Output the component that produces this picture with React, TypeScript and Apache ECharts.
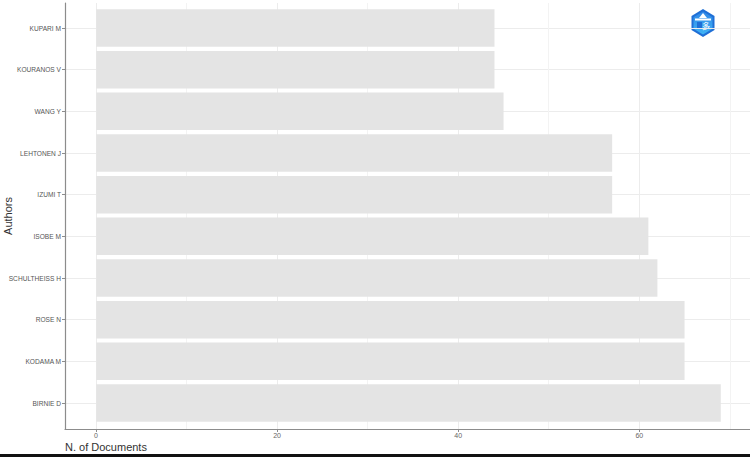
import React, { useEffect, useRef } from "react";
import * as echarts from "echarts";

// bottom-to-top order
const authors = [
  "BIRNIE D",
  "KODAMA M",
  "ROSE N",
  "SCHULTHEISS H",
  "ISOBE M",
  "IZUMI T",
  "LEHTONEN J",
  "WANG Y",
  "KOURANOS V",
  "KUPARI M",
];
const documents = [69, 65, 65, 62, 61, 57, 57, 45, 44, 44];
const xMajorTicks = [0, 20, 40, 60];
const xTitle = "N. of Documents";
const yTitle = "Authors";

const X_MIN = -3.45;
const X_MAX = 72.45;

export default function App() {
  const ref = useRef<HTMLDivElement>(null);
  useEffect(() => {
    if (!ref.current) return;
    const chart = echarts.init(ref.current, null, { renderer: "svg" });
    const font = "Liberation Sans, Arial, sans-serif";
    const gridColor = "#ececec";
    const axisColor = "#8c8c8c";
    chart.setOption({
      animation: false,
      backgroundColor: "#ffffff",
      grid: [
        // bars + category labels + horizontal grid
        { left: 65, width: 687, top: 28, height: 375, containLabel: false, outerBoundsMode: "none" },
        // vertical grid + x labels
        { left: 96, width: 656, top: 3, height: 426, containLabel: false, outerBoundsMode: "none" },
        // axis lines
        { left: 65, width: 687, top: 3, height: 426, containLabel: false, outerBoundsMode: "none" },
      ],
      xAxis: [
        {
          gridIndex: 0,
          type: "value",
          position: "bottom",
          min: X_MIN,
          max: X_MAX,
          show: false,
        },
        {
          gridIndex: 1,
          type: "value",
          position: "bottom",
          offset: 0,
          min: 0,
          max: X_MAX,
          interval: 10,
          axisLine: { show: false, onZero: false },
          axisTick: { show: false },
          axisLabel: { show: false },
          splitLine: { show: true, lineStyle: { color: "#f3f3f3", width: 1 } },
        },
        {
          gridIndex: 1,
          type: "value",
          position: "bottom",
          offset: 0,
          min: 0,
          max: X_MAX,
          interval: 20,
          axisLine: { show: false, onZero: false },
          axisTick: { show: true, length: 3, lineStyle: { color: axisColor } },
          axisLabel: {
            show: true,
            fontSize: 7,
            fontFamily: font,
            color: "#666",
            margin: 3,
            formatter: (v: number) => (xMajorTicks.includes(v) ? String(v) : ""),
          },
          splitLine: { show: true, lineStyle: { color: gridColor, width: 1 } },
        },
        {
          gridIndex: 2,
          type: "value",
          position: "bottom",
          offset: 0,
          min: 0,
          max: 1,
          axisLine: { show: true, onZero: false, lineStyle: { color: axisColor, width: 1.2 } },
          axisTick: { show: false },
          axisLabel: { show: false },
          splitLine: { show: false },
        },
      ],
      yAxis: [
        {
          gridIndex: 0,
          type: "category",
          position: "left",
          offset: 0,
          data: authors,
          boundaryGap: false,
          axisLine: { show: false, onZero: false },
          axisTick: { show: true, length: 3, inside: false, lineStyle: { color: axisColor } },
          axisLabel: {
            fontSize: 6.6,
            fontFamily: font,
            color: "#555",
            margin: 4,
          },
          splitLine: { show: true, lineStyle: { color: gridColor, width: 1 } },
        },
        {
          gridIndex: 1,
          type: "value",
          position: "left",
          min: 0,
          max: 1,
          show: false,
        },
        {
          gridIndex: 2,
          type: "value",
          position: "left",
          offset: 0,
          min: 0,
          max: 1,
          axisLine: { show: true, onZero: false, lineStyle: { color: axisColor, width: 1.2 } },
          axisTick: { show: false },
          axisLabel: { show: false },
          splitLine: { show: false },
          name: yTitle,
          nameLocation: "middle",
          nameRotate: 90,
          nameGap: 52,
          nameTextStyle: { fontSize: 11, fontFamily: font, color: "#333" },
        },
      ],
      series: [
        {
          type: "bar",
          xAxisIndex: 0,
          yAxisIndex: 0,
          data: documents,
          barWidth: "90%",
          clip: false,
          itemStyle: { color: "#e4e4e4" },
          z: 2,
        },
      ],
      graphic: [
        {
          type: "text",
          left: 65,
          top: 441,
          style: {
            text: xTitle,
            fontSize: 11,
            fontFamily: font,
            fill: "#333",
          },
        },
        {
          type: "rect",
          shape: { x: 0, y: 454, width: 750, height: 3 },
          style: { fill: "#111" },
        },
        {
          type: "group",
          children: [
            {
              type: "polygon",
              shape: {
                points: [
                  [703, 9],
                  [714.5, 16],
                  [714.5, 30],
                  [703, 37],
                  [691.5, 30],
                  [691.5, 16],
                ],
              },
              style: { fill: "#1f6fd6" },
            },
            {
              type: "polygon",
              shape: {
                points: [
                  [703, 11.5],
                  [712.5, 17.2],
                  [712.5, 28.8],
                  [703, 34.5],
                  [693.5, 28.8],
                  [693.5, 17.2],
                ],
              },
              style: {
                fill: new echarts.graphic.LinearGradient(0, 0, 0, 1, [
                  { offset: 0, color: "#2f86e6" },
                  { offset: 1, color: "#3fb4f5" },
                ]),
              },
            },
            {
              type: "polygon",
              shape: { points: [[703, 13], [707, 18], [699, 18]] },
              style: { fill: "#ffffff" },
            },
            {
              type: "rect",
              shape: { x: 695, y: 18.5, width: 16, height: 2 },
              style: { fill: "#ffffff" },
            },
            {
              type: "rect",
              shape: { x: 697, y: 22, width: 5, height: 7 },
              style: { fill: "#1f6fd6" },
            },
            {
              type: "text",
              x: 706,
              y: 25.5,
              style: {
                text: "多",
                fontSize: 8,
                fontFamily: "Noto Sans CJK SC",
                fill: "#ffffff",
                align: "center",
                verticalAlign: "middle",
              },
            },
          ],
        },
      ],
    });
    return () => chart.dispose();
  }, []);
  return (
    <div
      ref={ref}
      style={{ position: "fixed", left: 0, top: 0, width: 750, height: 457 }}
    />
  );
}
